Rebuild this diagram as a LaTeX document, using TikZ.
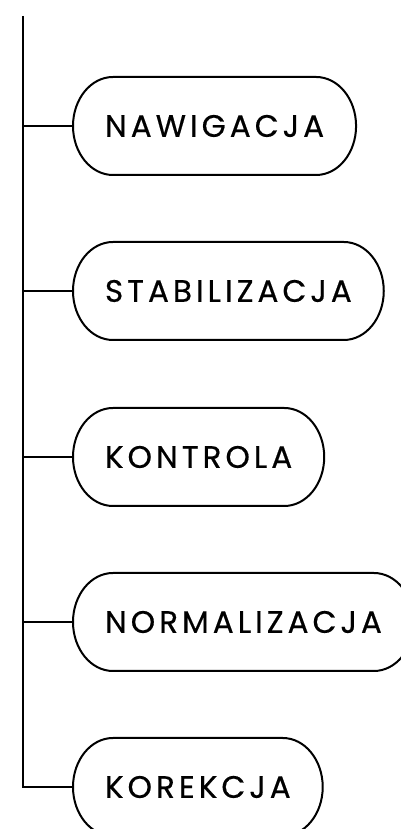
\documentclass[tikz,border=0pt]{standalone}
\usepackage{fontspec}
\setmainfont{Poppins}[LetterSpace=13, FakeBold=0.5]

\tikzset{
	pill/.style={draw=none, minimum height=98pt, inner xsep=32pt, outer sep=0pt, anchor=west, font=\fontsize{31}{36}\selectfont},
	pillline/.style={line width=2pt},
}

\begin{document}
\begin{tikzpicture}[x=1pt,y=1pt]
		\useasboundingbox (0,0) rectangle (400,829);
		\node[pill] (nawigacja) at (73,703) {NAWIGACJA};
		\node[pill] (stabilizacja) at (73,538) {STABILIZACJA};
		\node[pill] (kontrola) at (73,372) {KONTROLA};
		\node[pill] (normalizacja) at (73,207) {NORMALIZACJA};
		\node[pill] (korekcja) at (73,42) {KOREKCJA};
		% pill outlines
		\foreach \n in {nawigacja,stabilizacja,kontrola,normalizacja,korekcja} {
			\draw[pillline] ([xshift=40pt]\n.north west) -- ([xshift=-40pt]\n.north east)
				arc[start angle=90, end angle=-90, x radius=40pt, y radius=49pt]
				-- ([xshift=40pt]\n.south west)
				arc[start angle=270, end angle=90, x radius=40pt, y radius=49pt] -- cycle;
		}
		% trunk and branches
		\coordinate (top) at (23,813);
		\draw[pillline] (top) -- (top |- korekcja.west) -- (korekcja.west);
		\foreach \n in {nawigacja,stabilizacja,kontrola,normalizacja} {
			\draw[pillline] (top |- \n.west) -- (\n.west);
		}
\end{tikzpicture}
\end{document}
